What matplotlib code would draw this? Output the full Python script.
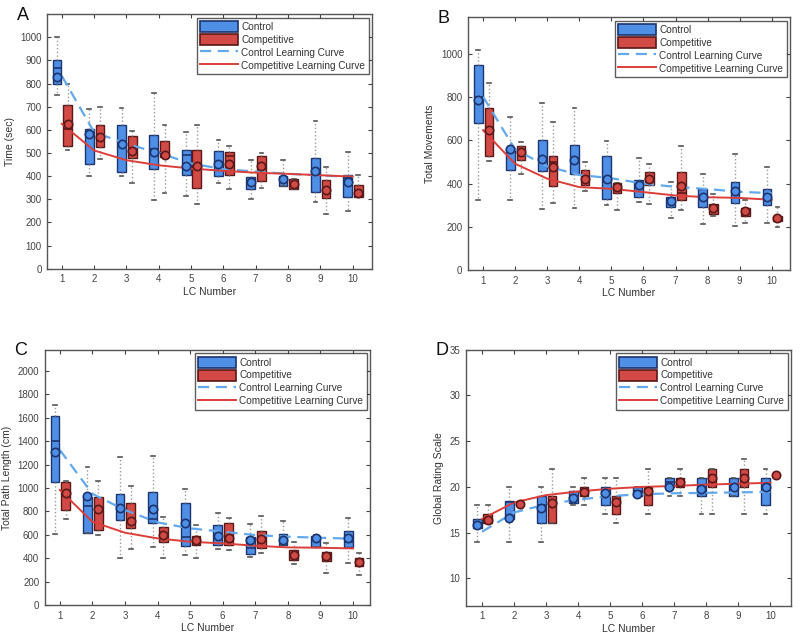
import matplotlib
matplotlib.use("Agg")
import matplotlib.pyplot as plt
from matplotlib.patches import Patch
from matplotlib.lines import Line2D

plt.rcParams['font.family'] = ['Liberation Sans', 'DejaVu Sans']

lc = list(range(1, 11))

# box stats per LC: (whisker low, q1, median, q3, whisker high)
time_control = [(750, 797, 868, 900, 1000), (400, 454, 590, 604, 690), (400, 419, 540, 619, 694),
                (297, 429, 519, 576, 757), (316, 404, 490, 514, 590), (369, 401, 460, 509, 557),
                (300, 343, 376, 397, 471), (359, 359, 383, 401, 469), (289, 330, 411, 480, 637),
                (251, 309, 390, 407, 504)]
time_control_mean = [829, 580, 537, 504, 443, 454, 376, 386, 421, 376]
time_comp = [(514, 529, 604, 707, 797), (476, 526, 564, 621, 697), (371, 480, 510, 573, 593),
             (329, 483, 497, 550, 621), (280, 350, 440, 511, 619), (343, 404, 486, 504, 529),
             (351, 379, 440, 486, 500), (346, 346, 364, 387, 387), (237, 307, 340, 383, 440),
             (311, 311, 333, 360, 404)]
time_comp_mean = [626, 571, 507, 493, 444, 454, 444, 364, 340, 329]
time_control_curve = [833, 590, 540, 500, 455, 430, 420, 410, 403, 397]
time_comp_curve = [626, 511, 469, 447, 433, 423, 415, 410, 404, 398]

moves_control = [(325, 681, 800, 949, 1019), (325, 461, 555, 567, 709), (283, 458, 520, 601, 771),
                 (288, 446, 520, 577, 748), (299, 327, 420, 526, 598), (314, 337, 392, 415, 520),
                 (241, 291, 319, 337, 407), (214, 291, 337, 373, 443), (206, 311, 368, 407, 539),
                 (217, 302, 337, 373, 477)]
moves_control_mean = [789, 562, 515, 511, 420, 392, 319, 337, 368, 337]
moves_comp = [(503, 526, 647, 752, 867), (443, 508, 539, 574, 593), (310, 387, 500, 526, 683),
              (368, 392, 423, 464, 500), (279, 356, 384, 404, 404), (307, 392, 420, 454, 492),
              (279, 325, 356, 454, 573), (252, 260, 286, 307, 350), (217, 252, 272, 288, 322),
              (198, 226, 241, 252, 291)]
moves_comp_mean = [647, 546, 477, 423, 384, 420, 389, 286, 272, 241]
moves_control_curve = [802, 558, 480, 440, 425, 400, 385, 375, 362, 356]
moves_comp_curve = [647, 492, 423, 384, 376, 361, 345, 337, 334, 325]

path_control = [(607, 1054, 1402, 1615, 1709), (618, 618, 849, 926, 1180), (399, 726, 830, 949, 1268),
                (499, 698, 735, 969, 1274), (430, 504, 584, 869, 991), (476, 513, 600, 684, 783),
                (407, 436, 484, 584, 692), (513, 513, 555, 604, 721), (499, 499, 560, 590, 598),
                (356, 493, 540, 635, 741)]
path_control_mean = [1305, 934, 832, 821, 698, 593, 555, 555, 570, 575]
path_comp = [(732, 812, 940, 1054, 1060), (598, 641, 820, 926, 1063), (476, 655, 720, 869, 1020),
             (399, 541, 598, 664, 749), (405, 513, 555, 590, 684), (470, 513, 570, 698, 741),
             (442, 484, 564, 635, 761), (350, 385, 427, 470, 541), (271, 379, 419, 450, 527),
             (256, 336, 370, 399, 442)]
path_comp_mean = [960, 818, 718, 598, 555, 570, 564, 427, 419, 370]
path_control_curve = [1325, 950, 812, 706, 655, 627, 598, 584, 575, 567]
path_comp_curve = [983, 712, 618, 570, 541, 527, 507, 493, 490, 484]

grs_control = [(14, 15.5, 16, 16.5, 18), (14, 16.5, 18.3, 18.5, 20), (14, 16, 18, 19, 20),
               (18, 18.2, 19, 19.5, 20), (17, 18, 19.5, 20, 21), (19, 19, 19.5, 20, 20),
               (19, 20, 20.5, 21, 21), (17, 19, 20, 21, 21), (19, 19, 20, 21, 21),
               (17, 18, 20, 21, 22)]
grs_control_mean = [15.8, 16.6, 17.7, 18.8, 19.3, 19.2, 20, 19.8, 20, 20]
grs_comp = [(16, 16, 16.5, 17, 18), (18, 18, 18, 18, 18), (16, 16, 18, 19, 22),
            (18, 19, 19.5, 20, 21), (16, 17, 18.4, 19, 21), (17, 18, 19.5, 20, 22),
            (19, 20, 20.5, 21, 22), (17, 20, 21, 22, 22), (17, 20, 21, 22, 23),
            (21.3, 21.3, 21.3, 21.3, 21.3)]
grs_comp_mean = [16.4, 18.1, 18.2, 19.4, 18.4, 19.5, 20.5, 21, 21, 21.3]
grs_control_curve = [15.1, 17.2, 18.1, 18.6, 19.0, 19.2, 19.3, 19.35, 19.4, 19.45]
grs_comp_curve = [16.5, 18.3, 19.1, 19.5, 19.8, 20.0, 20.1, 20.25, 20.35, 20.45]

BLUE = '#4f8fe6'
BLUE_EDGE = '#1c3470'
RED = '#d24a45'
RED_EDGE = '#5a1818'
CURVE_BLUE = '#62a8ea'
CURVE_RED = '#dc3e3a'
GRAY = '#444444'


def stats(rows, means):
    out = []
    for (lo, q1, med, q3, hi), m in zip(rows, means):
        out.append(dict(whislo=lo, q1=q1, med=med, q3=q3, whishi=hi, mean=m, fliers=[]))
    return out


def draw_boxes(ax, rows, means, offset, face, edge):
    pos = [x + offset for x in lc]
    ax.bxp(stats(rows, means), positions=pos, widths=0.27, patch_artist=True, showmeans=True,
           manage_ticks=False, capwidths=0.12,
           boxprops=dict(facecolor=face, edgecolor=edge, linewidth=1.0),
           medianprops=dict(color=edge, linewidth=1.2),
           whiskerprops=dict(color='#9a9a9a', linestyle=':', linewidth=1.0),
           capprops=dict(color='#555555', linewidth=1.2),
           meanprops=dict(marker='o', markerfacecolor=face, markeredgecolor=edge,
                          markeredgewidth=1.2, markersize=6))


def panel(rect, letter, ctrl, ctrl_mean, comp, comp_mean, ctrl_curve, comp_curve,
          ylim, yticks, xlim, ylabel):
    ax = fig.add_axes(rect)
    draw_boxes(ax, ctrl, ctrl_mean, -0.15, BLUE, BLUE_EDGE)
    draw_boxes(ax, comp, comp_mean, 0.18, RED, RED_EDGE)
    ax.plot(lc, ctrl_curve, color=CURVE_BLUE, linestyle=(0, (5, 3)), linewidth=1.6)
    ax.plot(lc, comp_curve, color=CURVE_RED, linewidth=1.4)
    ax.set_xlim(*xlim)
    ax.set_ylim(*ylim)
    ax.set_xticks(lc)
    ax.set_yticks(yticks)
    ax.tick_params(direction='in', top=True, right=True, labelsize=7, colors=GRAY,
                   length=3, pad=4)
    for s in ax.spines.values():
        s.set_color('#555555')
        s.set_linewidth(1.0)
    ax.set_xlabel('LC Number', fontsize=7.5, color='#333333', labelpad=2)
    ax.set_ylabel(ylabel, fontsize=7.5, color='#333333', labelpad=4)
    handles = [Patch(facecolor=BLUE, edgecolor=BLUE_EDGE, linewidth=1.2),
               Patch(facecolor=RED, edgecolor=RED_EDGE, linewidth=1.2),
               Line2D([0], [0], color=CURVE_BLUE, linestyle=(0, (5, 3)), linewidth=1.6),
               Line2D([0], [0], color=CURVE_RED, linewidth=1.4)]
    labels = ['Control', 'Competitive', 'Control Learning Curve', 'Competitive Learning Curve']
    leg = ax.legend(handles, labels, loc='upper right', fontsize=7.2, frameon=True, fancybox=False,
                    edgecolor='#333333', handlelength=3.8, handleheight=1.3, handletextpad=0.3,
                    labelspacing=0.2, borderpad=0.35, borderaxespad=0.35)
    leg.get_frame().set_linewidth(1.0)
    for t in leg.get_texts():
        t.set_color('#333333')
    x0, y0 = rect[0], rect[1] + rect[3]
    fig.text(x0 - 0.038, y0 - 0.002, letter, fontsize=13, color='#111111', va='center', ha='left')
    return ax


fig = plt.figure(figsize=(8, 6.37), dpi=100)

panel([0.059, 0.578, 0.406, 0.400], 'A', time_control, time_control_mean, time_comp, time_comp_mean,
      time_control_curve, time_comp_curve, (0, 1100), list(range(0, 1001, 100)), (0.55, 10.6),
      'Time (sec)')
panel([0.585, 0.576, 0.4025, 0.397], 'B', moves_control, moves_control_mean, moves_comp, moves_comp_mean,
      moves_control_curve, moves_comp_curve, (0, 1170), list(range(0, 1001, 200)), (0.53, 10.57),
      'Total Movements')
panel([0.056, 0.050, 0.4065, 0.401], 'C', path_control, path_control_mean, path_comp, path_comp_mean,
      path_control_curve, path_comp_curve, (0, 2180), list(range(0, 2001, 200)), (0.54, 10.52),
      'Total Path Length (cm)')
panel([0.5825, 0.049, 0.4065, 0.402], 'D', grs_control, grs_control_mean, grs_comp, grs_comp_mean,
      grs_control_curve, grs_comp_curve, (7, 35), list(range(10, 36, 5)), (0.5, 10.65),
      'Global Rating Scale')

fig.savefig('out.png', dpi=100)
